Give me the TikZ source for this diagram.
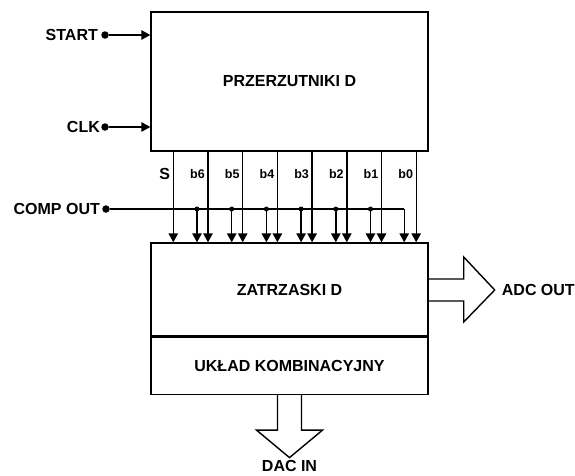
\documentclass[tikz,border=0pt]{standalone}
\usepackage{fontspec}
\setmainfont{Liberation Sans}
\usetikzlibrary{arrows.meta}
\tikzset{
  blok/.style={draw,line width=1.4pt,minimum width=277pt,inner sep=0pt,font=\fontsize{16}{19}\selectfont\bfseries},
  sygnal/.style={line width=1.4pt,-{Triangle[length=9pt,width=9.5pt]}},
  wejscie/.style={circle,fill,inner sep=0pt,minimum size=7.5pt},
  wezel/.style={circle,fill,inner sep=0pt,minimum size=5pt},
  opis/.style={font=\fontsize{16}{19}\selectfont\bfseries,inner sep=1pt},
  bit/.style={font=\fontsize{12.5}{15}\selectfont\bfseries,inner sep=1pt},
  szyna/.style={line width=1.4pt,line join=miter}
}
\begin{document}
\begin{tikzpicture}[x=1pt,y=-1pt]
    \useasboundingbox (0,0) rectangle (575,475);
    %% blocks
    \node[blok,minimum height=139pt] (przerz) at (289.5,81.5) {PRZERZUTNIKI D};
    \node[blok,minimum height=93pt] (zatrz) at (289.5,289.5) {ZATRZASKI D};
    \node[blok,minimum height=57pt,anchor=north] (uklad) at (zatrz.south) {UKŁAD KOMBINACYJNY};
    %% inputs
    \node[wejscie] (start) at (105,35) {};
    \node[opis,anchor=east] at ([xshift=-2pt]start.west) {START};
    \draw[sygnal] (start) -- (start -| przerz.west);
    \node[wejscie] (clk) at (105,127) {};
    \node[opis,anchor=east] at (clk.west) {CLK};
    \draw[sygnal] (clk) -- (clk -| przerz.west);
    %% outputs S, b6 ... b0
    \foreach \n/\st [count=\i from 0] in {S/opis,b6/bit,b5/bit,b4/bit,b3/bit,b2/bit,b1/bit,b0/bit} {
        \coordinate (w\i) at ([xshift={23+\i*34.7}]przerz.south west);
        \draw[sygnal] (w\i) -- (w\i |- zatrz.north);
        \path (w\i) ++(-2,22) node[\st,anchor=east] {\n};
    }
    %% comparator
    \node[wejscie] (comp) at (106,209) {};
    \node[opis,anchor=east] at ([xshift=-1pt]comp.west) {COMP OUT};
    \path (w7 |- comp) ++(-12,0) coordinate (zal);
    \draw[line width=1.4pt] (comp) -- (zal);
    \draw[sygnal] (zal) -- (zal |- zatrz.north);
    \foreach \i in {1,...,6} {
        \path (w\i |- comp) ++(-11,0) coordinate (g\i);
        \node[wezel] at (g\i) {};
        \draw[sygnal] (g\i) -- (g\i |- zatrz.north);
    }
    %% ADC OUT
    \draw[szyna] ([yshift=10.5pt]zatrz.east) -- ++(35,0) -- ++(0,-22) -- ++(31,33) coordinate (adcgrot)
        -- ++(-31,32) -- ++(0,-21) -- ++(-35,0);
    \node[opis,anchor=west] at ([xshift=6pt]adcgrot) {ADC OUT};
    %% DAC IN
    \draw[szyna] ([xshift=-12pt]uklad.south) -- ++(0,35) -- ++(-21,0) -- ++(33,27.5) coordinate (dacgrot)
        -- ++(33,-27.5) -- ++(-21,0) -- ++(0,-35);
    \node[opis,inner sep=0pt,anchor=north] at ([yshift=-3pt]dacgrot) {DAC IN};
\end{tikzpicture}
\end{document}
